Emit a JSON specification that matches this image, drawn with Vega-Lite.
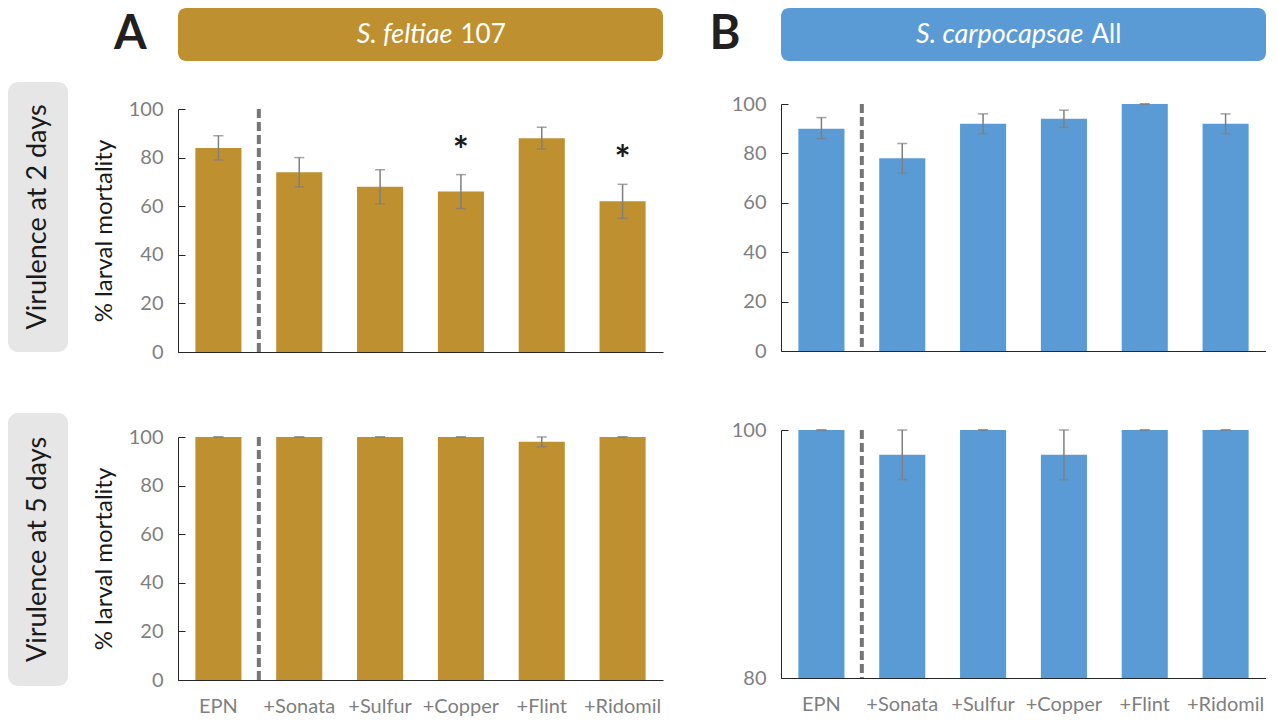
{
  "$schema": "https://vega.github.io/schema/vega-lite/v6.json",
  "background": "white",
  "padding": {"left": 8, "top": 8, "right": 0, "bottom": 0},
  "config": {
    "font": "Lato",
    "view": {"stroke": null},
    "axis": {
      "labelFont": "Lato",
      "titleFont": "Lato",
      "labelColor": "#7f7f7f",
      "labelFontSize": 20,
      "domainColor": "#262626",
      "tickColor": "#262626",
      "grid": false
    }
  },
  "datasets": {
    "sf2": [
      {"treatment": "EPN", "mortality": 84, "lo": 79, "hi": 89, "sig": ""},
      {"treatment": "+Sonata", "mortality": 74, "lo": 68, "hi": 80, "sig": ""},
      {"treatment": "+Sulfur", "mortality": 68, "lo": 61, "hi": 75, "sig": ""},
      {"treatment": "+Copper", "mortality": 66, "lo": 59, "hi": 73, "sig": "*"},
      {"treatment": "+Flint", "mortality": 88, "lo": 83.5, "hi": 92.5, "sig": ""},
      {"treatment": "+Ridomil", "mortality": 62, "lo": 55, "hi": 69, "sig": "*"}
    ],
    "sc2": [
      {"treatment": "EPN", "mortality": 90, "lo": 86, "hi": 94.5, "sig": ""},
      {"treatment": "+Sonata", "mortality": 78, "lo": 72, "hi": 84, "sig": ""},
      {"treatment": "+Sulfur", "mortality": 92, "lo": 88, "hi": 96, "sig": ""},
      {"treatment": "+Copper", "mortality": 94, "lo": 90.5, "hi": 97.5, "sig": ""},
      {"treatment": "+Flint", "mortality": 100, "lo": 100, "hi": 100, "sig": ""},
      {"treatment": "+Ridomil", "mortality": 92, "lo": 88, "hi": 96, "sig": ""}
    ],
    "sf5": [
      {"treatment": "EPN", "mortality": 100, "lo": 100, "hi": 100, "sig": ""},
      {"treatment": "+Sonata", "mortality": 100, "lo": 100, "hi": 100, "sig": ""},
      {"treatment": "+Sulfur", "mortality": 100, "lo": 100, "hi": 100, "sig": ""},
      {"treatment": "+Copper", "mortality": 100, "lo": 100, "hi": 100, "sig": ""},
      {"treatment": "+Flint", "mortality": 98, "lo": 96, "hi": 100, "sig": ""},
      {"treatment": "+Ridomil", "mortality": 100, "lo": 100, "hi": 100, "sig": ""}
    ],
    "sc5": [
      {"treatment": "EPN", "mortality": 100, "lo": 100, "hi": 100, "sig": ""},
      {"treatment": "+Sonata", "mortality": 98, "lo": 96, "hi": 100, "sig": ""},
      {"treatment": "+Sulfur", "mortality": 100, "lo": 100, "hi": 100, "sig": ""},
      {"treatment": "+Copper", "mortality": 98, "lo": 96, "hi": 100, "sig": ""},
      {"treatment": "+Flint", "mortality": 100, "lo": 100, "hi": 100, "sig": ""},
      {"treatment": "+Ridomil", "mortality": 100, "lo": 100, "hi": 100, "sig": ""}
    ]
  },
  "spacing": 24,
  "hconcat": [
    {
      "spacing": 61,
      "vconcat": [
        {
          "width": 60, "height": 13,
          "data": {"values": [{"label": ""}]},
          "mark": {"type": "text"},
          "encoding": {"text": {"field": "label"}}
        },
        {
          "width": 60, "height": 270,
          "view": {"fill": "#E7E6E6", "cornerRadius": 10, "stroke": null},
          "data": {"values": [{"label": "Virulence at 2 days"}]},
          "mark": {"type": "text", "angle": 270, "fontSize": 27, "color": "#1a1a1a", "baseline": "middle"},
          "encoding": {"text": {"field": "label"}}
        },
        {
          "width": 60, "height": 273,
          "view": {"fill": "#E7E6E6", "cornerRadius": 10, "stroke": null},
          "data": {"values": [{"label": "Virulence at 5 days"}]},
          "mark": {"type": "text", "angle": 270, "fontSize": 27, "color": "#1a1a1a", "baseline": "middle"},
          "encoding": {"text": {"field": "label"}}
        }
      ]
    },
    {
      "spacing": 46,
      "hconcat": [
        {
          "spacing": 38,
          "vconcat": [
            {
              "width": 485, "height": 53,
              "view": {"fill": "#BF902F", "cornerRadius": 8, "stroke": null},
              "title": {"text": "A", "orient": "left", "angle": 0, "anchor": "middle", "align": "center", "baseline": "middle", "offset": 15, "fontSize": 47, "fontWeight": "bold", "color": "#231f20", "font": "Lato"},
              "data": {"values": [{"species": "S. feltiae", "strain": "107"}]},
              "layer": [
                {"mark": {"type": "text", "align": "right", "baseline": "middle", "dx": 32, "fontStyle": "italic", "fontSize": 27, "color": "white"},
                 "encoding": {"text": {"field": "species"}}},
                {"mark": {"type": "text", "align": "left", "baseline": "middle", "dx": 40, "fontSize": 26, "color": "white"},
                 "encoding": {"text": {"field": "strain"}}}
              ]
            },
            {
              "spacing": 65,
              "vconcat": [
                {
                  "width": 485, "height": 243,
                  "data": {"name": "sf2"},
                  "layer": [
                    {"mark": {"type": "bar", "width": {"band": 0.57}, "color": "#BF902F"},
                     "encoding": {
                       "x": {"field": "treatment", "type": "nominal", "scale": {"domain": ["EPN", "+Sonata", "+Sulfur", "+Copper", "+Flint", "+Ridomil"], "paddingInner": 0, "paddingOuter": 0}, "axis": {"labels": false, "ticks": false, "title": null}},
                       "y": {"field": "mortality", "type": "quantitative", "scale": {"domain": [0, 100]}, "axis": {"values": [0, 20, 40, 60, 80, 100], "tickSize": -7, "labelPadding": 22, "title": "% larval mortality", "titleFontSize": 24, "titleColor": "#1a1a1a", "titleFontWeight": "normal", "titlePadding": 12}}}},
                    {"mark": {"type": "rule", "color": "#7f7f7f", "strokeWidth": 1.5},
                     "encoding": {
                       "x": {"field": "treatment", "type": "nominal", "scale": {"domain": ["EPN", "+Sonata", "+Sulfur", "+Copper", "+Flint", "+Ridomil"], "paddingInner": 0, "paddingOuter": 0}, "axis": {"labels": false, "ticks": false, "title": null}},
                       "y": {"field": "lo", "type": "quantitative", "scale": {"domain": [0, 100]}, "axis": {"values": [0, 20, 40, 60, 80, 100], "tickSize": -7, "labelPadding": 22, "title": "% larval mortality", "titleFontSize": 24, "titleColor": "#1a1a1a", "titleFontWeight": "normal", "titlePadding": 12}},
                       "y2": {"field": "hi"}}},
                    {"mark": {"type": "tick", "color": "#7f7f7f", "thickness": 1.5, "size": 10},
                     "encoding": {
                       "x": {"field": "treatment", "type": "nominal", "scale": {"domain": ["EPN", "+Sonata", "+Sulfur", "+Copper", "+Flint", "+Ridomil"], "paddingInner": 0, "paddingOuter": 0}, "axis": {"labels": false, "ticks": false, "title": null}},
                       "y": {"field": "lo", "type": "quantitative", "scale": {"domain": [0, 100]}, "axis": {"values": [0, 20, 40, 60, 80, 100], "tickSize": -7, "labelPadding": 22, "title": "% larval mortality", "titleFontSize": 24, "titleColor": "#1a1a1a", "titleFontWeight": "normal", "titlePadding": 12}}}},
                    {"mark": {"type": "tick", "color": "#7f7f7f", "thickness": 1.5, "size": 10},
                     "encoding": {
                       "x": {"field": "treatment", "type": "nominal", "scale": {"domain": ["EPN", "+Sonata", "+Sulfur", "+Copper", "+Flint", "+Ridomil"], "paddingInner": 0, "paddingOuter": 0}, "axis": {"labels": false, "ticks": false, "title": null}},
                       "y": {"field": "hi", "type": "quantitative", "scale": {"domain": [0, 100]}, "axis": {"values": [0, 20, 40, 60, 80, 100], "tickSize": -7, "labelPadding": 22, "title": "% larval mortality", "titleFontSize": 24, "titleColor": "#1a1a1a", "titleFontWeight": "normal", "titlePadding": 12}}}},
                    {"data": {"values": [{"treatment": "+Sonata"}]},
                     "mark": {"type": "rule", "color": "#767676", "strokeWidth": 4, "strokeDash": [9, 4]},
                     "encoding": {
                       "x": {"field": "treatment", "type": "nominal", "bandPosition": 0, "scale": {"domain": ["EPN", "+Sonata", "+Sulfur", "+Copper", "+Flint", "+Ridomil"], "paddingInner": 0, "paddingOuter": 0}, "axis": {"labels": false, "ticks": false, "title": null}}}},
                    {"transform": [{"filter": "datum.sig === '*'"}],
                     "mark": {"type": "text", "fontSize": 38, "fontWeight": "bold", "dy": -22, "color": "#1a1a1a"},
                     "encoding": {
                       "x": {"field": "treatment", "type": "nominal", "scale": {"domain": ["EPN", "+Sonata", "+Sulfur", "+Copper", "+Flint", "+Ridomil"], "paddingInner": 0, "paddingOuter": 0}, "axis": {"labels": false, "ticks": false, "title": null}},
                       "y": {"field": "hi", "type": "quantitative", "scale": {"domain": [0, 100]}, "axis": {"values": [0, 20, 40, 60, 80, 100], "tickSize": -7, "labelPadding": 22, "title": "% larval mortality", "titleFontSize": 24, "titleColor": "#1a1a1a", "titleFontWeight": "normal", "titlePadding": 12}},
                       "text": {"field": "sig"}}}
                  ]
                },
                {
                  "width": 485, "height": 243,
                  "data": {"name": "sf5"},
                  "layer": [
                    {"mark": {"type": "bar", "width": {"band": 0.57}, "color": "#BF902F"},
                     "encoding": {
                       "x": {"field": "treatment", "type": "nominal", "scale": {"domain": ["EPN", "+Sonata", "+Sulfur", "+Copper", "+Flint", "+Ridomil"], "paddingInner": 0, "paddingOuter": 0}, "axis": {"ticks": false, "labelAngle": 0, "labelPadding": 16, "title": null}},
                       "y": {"field": "mortality", "type": "quantitative", "scale": {"domain": [0, 100]}, "axis": {"values": [0, 20, 40, 60, 80, 100], "tickSize": -7, "labelPadding": 22, "title": "% larval mortality", "titleFontSize": 24, "titleColor": "#1a1a1a", "titleFontWeight": "normal", "titlePadding": 12}}}},
                    {"mark": {"type": "rule", "color": "#7f7f7f", "strokeWidth": 1.5},
                     "encoding": {
                       "x": {"field": "treatment", "type": "nominal", "scale": {"domain": ["EPN", "+Sonata", "+Sulfur", "+Copper", "+Flint", "+Ridomil"], "paddingInner": 0, "paddingOuter": 0}, "axis": {"ticks": false, "labelAngle": 0, "labelPadding": 16, "title": null}},
                       "y": {"field": "lo", "type": "quantitative", "scale": {"domain": [0, 100]}, "axis": {"values": [0, 20, 40, 60, 80, 100], "tickSize": -7, "labelPadding": 22, "title": "% larval mortality", "titleFontSize": 24, "titleColor": "#1a1a1a", "titleFontWeight": "normal", "titlePadding": 12}},
                       "y2": {"field": "hi"}}},
                    {"mark": {"type": "tick", "color": "#7f7f7f", "thickness": 1.5, "size": 10},
                     "encoding": {
                       "x": {"field": "treatment", "type": "nominal", "scale": {"domain": ["EPN", "+Sonata", "+Sulfur", "+Copper", "+Flint", "+Ridomil"], "paddingInner": 0, "paddingOuter": 0}, "axis": {"ticks": false, "labelAngle": 0, "labelPadding": 16, "title": null}},
                       "y": {"field": "lo", "type": "quantitative", "scale": {"domain": [0, 100]}, "axis": {"values": [0, 20, 40, 60, 80, 100], "tickSize": -7, "labelPadding": 22, "title": "% larval mortality", "titleFontSize": 24, "titleColor": "#1a1a1a", "titleFontWeight": "normal", "titlePadding": 12}}}},
                    {"mark": {"type": "tick", "color": "#7f7f7f", "thickness": 1.5, "size": 10},
                     "encoding": {
                       "x": {"field": "treatment", "type": "nominal", "scale": {"domain": ["EPN", "+Sonata", "+Sulfur", "+Copper", "+Flint", "+Ridomil"], "paddingInner": 0, "paddingOuter": 0}, "axis": {"ticks": false, "labelAngle": 0, "labelPadding": 16, "title": null}},
                       "y": {"field": "hi", "type": "quantitative", "scale": {"domain": [0, 100]}, "axis": {"values": [0, 20, 40, 60, 80, 100], "tickSize": -7, "labelPadding": 22, "title": "% larval mortality", "titleFontSize": 24, "titleColor": "#1a1a1a", "titleFontWeight": "normal", "titlePadding": 12}}}},
                    {"data": {"values": [{"treatment": "+Sonata"}]},
                     "mark": {"type": "rule", "color": "#767676", "strokeWidth": 4, "strokeDash": [9, 4]},
                     "encoding": {
                       "x": {"field": "treatment", "type": "nominal", "bandPosition": 0, "scale": {"domain": ["EPN", "+Sonata", "+Sulfur", "+Copper", "+Flint", "+Ridomil"], "paddingInner": 0, "paddingOuter": 0}, "axis": {"ticks": false, "labelAngle": 0, "labelPadding": 16, "title": null}}}}
                  ]
                }
              ]
            }
          ]
        },
        {
          "spacing": 33,
          "vconcat": [
            {
              "width": 485, "height": 53,
              "view": {"fill": "#5B9BD5", "cornerRadius": 8, "stroke": null},
              "title": {"text": "B", "orient": "left", "angle": 0, "anchor": "middle", "align": "center", "baseline": "middle", "offset": 25, "fontSize": 47, "fontWeight": "bold", "color": "#231f20", "font": "Lato"},
              "data": {"values": [{"species": "S. carpocapsae", "strain": "All"}]},
              "layer": [
                {"mark": {"type": "text", "align": "right", "baseline": "middle", "dx": 60, "fontStyle": "italic", "fontSize": 27, "color": "white"},
                 "encoding": {"text": {"field": "species"}}},
                {"mark": {"type": "text", "align": "left", "baseline": "middle", "dx": 68, "fontSize": 26, "color": "white"},
                 "encoding": {"text": {"field": "strain"}}}
              ]
            },
            {
              "spacing": 59,
              "vconcat": [
                {
                  "width": 485, "height": 247,
                  "data": {"name": "sc2"},
                  "layer": [
                    {"mark": {"type": "bar", "width": {"band": 0.57}, "color": "#5B9BD5"},
                     "encoding": {
                       "x": {"field": "treatment", "type": "nominal", "scale": {"domain": ["EPN", "+Sonata", "+Sulfur", "+Copper", "+Flint", "+Ridomil"], "paddingInner": 0, "paddingOuter": 0}, "axis": {"labels": false, "ticks": false, "title": null}},
                       "y": {"field": "mortality", "type": "quantitative", "scale": {"domain": [0, 100]}, "axis": {"values": [0, 20, 40, 60, 80, 100], "tickSize": -7, "labelPadding": 22, "title": null}}}},
                    {"mark": {"type": "rule", "color": "#7f7f7f", "strokeWidth": 1.5},
                     "encoding": {
                       "x": {"field": "treatment", "type": "nominal", "scale": {"domain": ["EPN", "+Sonata", "+Sulfur", "+Copper", "+Flint", "+Ridomil"], "paddingInner": 0, "paddingOuter": 0}, "axis": {"labels": false, "ticks": false, "title": null}},
                       "y": {"field": "lo", "type": "quantitative", "scale": {"domain": [0, 100]}, "axis": {"values": [0, 20, 40, 60, 80, 100], "tickSize": -7, "labelPadding": 22, "title": null}},
                       "y2": {"field": "hi"}}},
                    {"mark": {"type": "tick", "color": "#7f7f7f", "thickness": 1.5, "size": 10},
                     "encoding": {
                       "x": {"field": "treatment", "type": "nominal", "scale": {"domain": ["EPN", "+Sonata", "+Sulfur", "+Copper", "+Flint", "+Ridomil"], "paddingInner": 0, "paddingOuter": 0}, "axis": {"labels": false, "ticks": false, "title": null}},
                       "y": {"field": "lo", "type": "quantitative", "scale": {"domain": [0, 100]}, "axis": {"values": [0, 20, 40, 60, 80, 100], "tickSize": -7, "labelPadding": 22, "title": null}}}},
                    {"mark": {"type": "tick", "color": "#7f7f7f", "thickness": 1.5, "size": 10},
                     "encoding": {
                       "x": {"field": "treatment", "type": "nominal", "scale": {"domain": ["EPN", "+Sonata", "+Sulfur", "+Copper", "+Flint", "+Ridomil"], "paddingInner": 0, "paddingOuter": 0}, "axis": {"labels": false, "ticks": false, "title": null}},
                       "y": {"field": "hi", "type": "quantitative", "scale": {"domain": [0, 100]}, "axis": {"values": [0, 20, 40, 60, 80, 100], "tickSize": -7, "labelPadding": 22, "title": null}}}},
                    {"data": {"values": [{"treatment": "+Sonata"}]},
                     "mark": {"type": "rule", "color": "#767676", "strokeWidth": 4, "strokeDash": [9, 4]},
                     "encoding": {
                       "x": {"field": "treatment", "type": "nominal", "bandPosition": 0, "scale": {"domain": ["EPN", "+Sonata", "+Sulfur", "+Copper", "+Flint", "+Ridomil"], "paddingInner": 0, "paddingOuter": 0}, "axis": {"labels": false, "ticks": false, "title": null}}}}
                  ]
                },
                {
                  "width": 485, "height": 248,
                  "data": {"name": "sc5"},
                  "layer": [
                    {"mark": {"type": "bar", "width": {"band": 0.57}, "color": "#5B9BD5", "clip": true},
                     "encoding": {
                       "x": {"field": "treatment", "type": "nominal", "scale": {"domain": ["EPN", "+Sonata", "+Sulfur", "+Copper", "+Flint", "+Ridomil"], "paddingInner": 0, "paddingOuter": 0}, "axis": {"ticks": false, "labelAngle": 0, "labelPadding": 16, "title": null}},
                       "y": {"field": "mortality", "type": "quantitative", "scale": {"domain": [80, 100], "zero": false}, "axis": {"values": [80, 100], "tickSize": -7, "labelPadding": 22, "title": null}}}},
                    {"mark": {"type": "rule", "color": "#7f7f7f", "strokeWidth": 1.5},
                     "encoding": {
                       "x": {"field": "treatment", "type": "nominal", "scale": {"domain": ["EPN", "+Sonata", "+Sulfur", "+Copper", "+Flint", "+Ridomil"], "paddingInner": 0, "paddingOuter": 0}, "axis": {"ticks": false, "labelAngle": 0, "labelPadding": 16, "title": null}},
                       "y": {"field": "lo", "type": "quantitative", "scale": {"domain": [80, 100], "zero": false}, "axis": {"values": [80, 100], "tickSize": -7, "labelPadding": 22, "title": null}},
                       "y2": {"field": "hi"}}},
                    {"mark": {"type": "tick", "color": "#7f7f7f", "thickness": 1.5, "size": 10},
                     "encoding": {
                       "x": {"field": "treatment", "type": "nominal", "scale": {"domain": ["EPN", "+Sonata", "+Sulfur", "+Copper", "+Flint", "+Ridomil"], "paddingInner": 0, "paddingOuter": 0}, "axis": {"ticks": false, "labelAngle": 0, "labelPadding": 16, "title": null}},
                       "y": {"field": "lo", "type": "quantitative", "scale": {"domain": [80, 100], "zero": false}, "axis": {"values": [80, 100], "tickSize": -7, "labelPadding": 22, "title": null}}}},
                    {"mark": {"type": "tick", "color": "#7f7f7f", "thickness": 1.5, "size": 10},
                     "encoding": {
                       "x": {"field": "treatment", "type": "nominal", "scale": {"domain": ["EPN", "+Sonata", "+Sulfur", "+Copper", "+Flint", "+Ridomil"], "paddingInner": 0, "paddingOuter": 0}, "axis": {"ticks": false, "labelAngle": 0, "labelPadding": 16, "title": null}},
                       "y": {"field": "hi", "type": "quantitative", "scale": {"domain": [80, 100], "zero": false}, "axis": {"values": [80, 100], "tickSize": -7, "labelPadding": 22, "title": null}}}},
                    {"data": {"values": [{"treatment": "+Sonata"}]},
                     "mark": {"type": "rule", "color": "#767676", "strokeWidth": 4, "strokeDash": [9, 4]},
                     "encoding": {
                       "x": {"field": "treatment", "type": "nominal", "bandPosition": 0, "scale": {"domain": ["EPN", "+Sonata", "+Sulfur", "+Copper", "+Flint", "+Ridomil"], "paddingInner": 0, "paddingOuter": 0}, "axis": {"ticks": false, "labelAngle": 0, "labelPadding": 16, "title": null}}}}
                  ]
                }
              ]
            }
          ]
        }
      ]
    }
  ]
}
